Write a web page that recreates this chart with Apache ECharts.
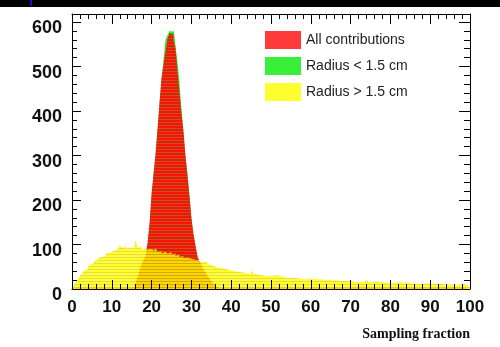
<!DOCTYPE html>
<html>
<head>
<meta charset="utf-8">
<script src="https://cdn.jsdelivr.net/npm/echarts@6/dist/echarts.min.js"></script>
<style>
  html, body { margin: 0; padding: 0; background: #fff; }
  #chart { width: 500px; height: 347px; }
</style>
</head>
<body>
<div id="chart"></div>
<script>
// histogram bins: 0.5 wide, from 0 to 100
const binLow = 0;
const binWidth = 0.5;
const xTicks = [0, 10, 20, 30, 40, 50, 60, 70, 80, 90, 100];
const yTicks = [0, 100, 200, 300, 400, 500, 600];

// Radius > 1.5 cm
const outerCounts = [
  3, 9, 17, 23, 30, 35, 41, 45, 50, 55,
  58, 63, 65, 70, 72, 76, 74, 80, 82, 79,
  86, 84, 90, 87, 99, 92, 96, 88, 94, 91,
  97, 90, 110, 93, 96, 89, 92, 87, 90, 86,
  89, 84, 92, 83, 86, 80, 84, 82, 79, 83,
  78, 80, 75, 77, 72, 74, 69, 71, 67, 68,
  64, 66, 63, 65, 60, 62, 58, 61, 56, 54,
  52, 50, 51, 48, 49, 46, 47, 44, 45, 42,
  43, 40, 41, 38, 39, 37, 38, 35, 36, 34,
  45, 35, 33, 34, 31, 32, 30, 31, 29, 31,
  30, 28, 31, 27, 29, 28, 26, 28, 25, 27,
  25, 26, 24, 25, 23, 25, 22, 24, 23, 21,
  23, 21, 22, 20, 22, 19, 21, 19, 20, 18,
  19, 18, 20, 17, 18, 17, 19, 16, 18, 17,
  17, 18, 16, 17, 16, 18, 15, 17, 21, 16,
  16, 15, 17, 14, 16, 15, 14, 16, 14, 15,
  13, 15, 14, 13, 15, 13, 14, 12, 14, 13,
  12, 14, 12, 13, 11, 13, 12, 11, 13, 11,
  12, 11, 12, 10, 12, 11, 10, 12, 10, 11,
  10, 11, 9, 11, 10, 9, 11, 10, 9, 11
];

// All contributions
const allCounts = [
  3, 3, 3, 3, 3, 3, 3, 3, 3, 3,
  3, 3, 3, 3, 3, 3, 3, 3, 3, 3,
  3, 3, 3, 3, 3, 3, 3, 3, 3, 3,
  3, 5, 15, 28, 42, 55, 66, 75, 105, 150,
  215, 258, 305, 360, 420, 475, 505, 535, 562, 575,
  572, 560, 540, 490, 440, 395, 355, 300, 255, 210,
  160, 125, 100, 75, 62, 55, 45, 38, 30, 24,
  18, 12, 6, 3, 3, 3, 3, 3, 3, 3,
  3, 3, 3, 3, 3, 3, 3, 3, 3, 3,
  3, 3, 3, 3, 3, 3, 3, 3, 3, 3,
  3, 3, 3, 3, 3, 3, 3, 3, 3, 3,
  3, 3, 3, 3, 3, 3, 3, 3, 3, 3,
  3, 3, 3, 3, 3, 3, 3, 3, 3, 3,
  3, 3, 3, 3, 3, 3, 3, 3, 3, 3,
  3, 3, 3, 3, 3, 3, 3, 3, 3, 3,
  3, 3, 3, 3, 3, 3, 3, 3, 3, 3,
  3, 3, 3, 3, 3, 3, 3, 3, 3, 3,
  3, 3, 3, 3, 3, 3, 3, 3, 3, 3,
  3, 3, 3, 3, 3, 3, 3, 3, 3, 3,
  3, 3, 3, 3, 3, 3, 3, 3, 3, 3
];

// Radius < 1.5 cm
const innerCounts = [
  0, 0, 0, 0, 0, 0, 0, 0, 0, 0,
  0, 0, 0, 0, 0, 0, 0, 0, 0, 0,
  0, 0, 0, 0, 0, 0, 0, 0, 0, 0,
  0, 0, 0, 0, 0, 0, 0, 0, 95, 140,
  205, 262, 300, 355, 415, 470, 515, 560, 570, 580,
  578, 586, 548, 510, 465, 405, 352, 298, 262, 212,
  158, 120, 90, 65, 45, 30, 15, 0, 0, 0
];

const seriesNames = ['All contributions', 'Radius < 1.5 cm', 'Radius > 1.5 cm'];

function toSteps(counts) {
  const pts = counts.map((c, i) => [binLow + i * binWidth, c]);
  pts.push([binLow + counts.length * binWidth, counts[counts.length - 1]]);
  return pts;
}

// striped fills, like the hatched ROOT fills in the original
function stripes(rowA, rowB) {
  const c = document.createElement('canvas');
  c.width = 8; c.height = 3;
  const ctx = c.getContext('2d');
  ctx.fillStyle = rowA; ctx.fillRect(0, 0, 8, 2);
  ctx.fillStyle = rowB; ctx.fillRect(0, 2, 8, 1);
  return { image: c, repeat: 'repeat' };
}

const redFill = stripes('#f81208', 'rgb(185,85,30)');
const yellowFill = stripes('rgba(255,255,0,0.82)', 'rgba(220,205,0,0.7)');

const tickFont = { fontFamily: 'Liberation Sans', fontWeight: 'bold', color: '#111' };

// ROOT-style frame axis: ticks pointing into the plot
function frameAxis(extra, len) {
  return Object.assign({
    type: 'value', z: 10,
    axisLine: { show: true, onZero: false, lineStyle: { color: '#000', width: 1 } },
    axisTick: { show: true, inside: true, length: len, lineStyle: { color: '#000' } },
    minorTick: { show: true, splitNumber: 5, length: Math.round(len / 2), lineStyle: { color: '#000' } },
    splitLine: { show: false }
  }, extra);
}

const chart = echarts.init(document.getElementById('chart'));

chart.setOption({
  animation: false,
  grid: { left: 72, right: 30, top: 14, bottom: 58 },
  legend: {
    orient: 'vertical',
    left: 265,
    top: 31,
    padding: 0,
    icon: 'rect',
    itemWidth: 36,
    itemHeight: 18,
    itemGap: 8,
    textStyle: { fontFamily: 'Liberation Sans', fontSize: 14, color: '#222' },
    data: [
      { name: seriesNames[0], itemStyle: { color: '#ff3a3a' } },
      { name: seriesNames[1], itemStyle: { color: '#38f038' } },
      { name: seriesNames[2], itemStyle: { color: '#ffff30' } }
    ]
  },
  xAxis: [
    frameAxis({
      min: 0, max: 100, interval: 10,
      axisLabel: {
        ...tickFont, fontSize: 17, margin: 10,
        formatter: v => xTicks.includes(v) ? String(v) : ''
      }
    }, 9),
    frameAxis({
      position: 'top', min: 0, max: 100, interval: 10,
      axisLabel: { show: false }
    }, 10)
  ],
  yAxis: [
    frameAxis({
      min: 0, max: 618, interval: 100,
      axisLabel: {
        ...tickFont, fontSize: 18, margin: 10,
        verticalAlign: 'top', lineHeight: 13,
        showMaxLabel: false,
        formatter: v => yTicks.includes(v) ? String(v) : ''
      }
    }, 9),
    frameAxis({
      position: 'right', min: 0, max: 618, interval: 100,
      axisLabel: { show: false }
    }, 11)
  ],
  series: [
    {
      name: seriesNames[1],
      type: 'line',
      step: 'end',
      showSymbol: false,
      color: '#22ee22',
      lineStyle: { width: 0 },
      areaStyle: { color: '#22ee22', opacity: 1 },
      data: toSteps(innerCounts),
      z: 2
    },
    {
      name: seriesNames[0],
      type: 'line',
      step: 'end',
      showSymbol: false,
      color: '#f81208',
      lineStyle: { width: 0 },
      areaStyle: { color: redFill, opacity: 1 },
      data: toSteps(allCounts),
      z: 3
    },
    {
      name: seriesNames[2],
      type: 'line',
      step: 'end',
      showSymbol: false,
      color: '#ffff00',
      lineStyle: { width: 0 },
      areaStyle: { color: yellowFill, opacity: 1 },
      data: toSteps(outerCounts),
      z: 4
    }
  ],
  graphic: [
    { type: 'rect', left: 0, top: 0, shape: { width: 500, height: 7 }, style: { fill: '#000' } },
    { type: 'rect', left: 30, top: 0, shape: { width: 2, height: 6 }, style: { fill: '#1010d0' } },
    {
      type: 'text', right: 30, top: 327,
      style: {
        text: 'Sampling fraction',
        fontFamily: 'Liberation Serif', fontWeight: 'bold', fontSize: 14, fill: '#111'
      }
    }
  ]
});
</script>
</body>
</html>
